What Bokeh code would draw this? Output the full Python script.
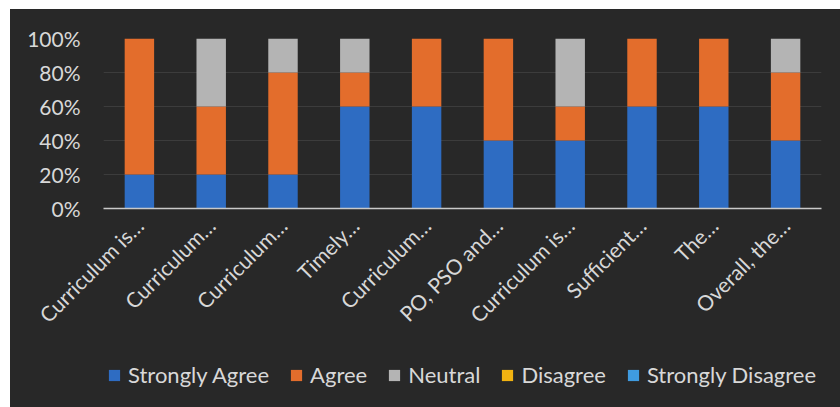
from bokeh.plotting import figure
from bokeh.models import Range1d, FixedTicker, PrintfTickFormatter, Legend, ColumnDataSource
from bokeh.layouts import column
from bokeh.embed import file_html
from bokeh.resources import INLINE
import math

categories = ["Curriculum is\u2026", "Curriculum\u2026", "Curriculum\u2026", "Timely\u2026", "Curriculum\u2026",
              "PO, PSO and\u2026", "Curriculum is\u2026", "Sufficient\u2026", "The\u2026", "Overall, the\u2026"]
positions = [1, 2, 3, 4, 5, 6, 7, 8, 9, 10]
strongly_agree = [20, 20, 20, 60, 60, 40, 40, 60, 60, 40]
agree = [80, 40, 60, 20, 40, 60, 20, 40, 40, 40]
neutral = [0, 40, 20, 20, 0, 0, 40, 0, 0, 20]
disagree = [0, 0, 0, 0, 0, 0, 0, 0, 0, 0]
strongly_disagree = [0, 0, 0, 0, 0, 0, 0, 0, 0, 0]
series = ["Strongly Agree", "Agree", "Neutral", "Disagree", "Strongly Disagree"]
colors = ["#2e6cc2", "#e36d2c", "#b4b4b4", "#f2b311", "#3f9be0"]
y_ticks = [0, 20, 40, 60, 80, 100]

src = ColumnDataSource(dict(x=positions, **{
    "Strongly Agree": strongly_agree, "Agree": agree, "Neutral": neutral,
    "Disagree": disagree, "Strongly Disagree": strongly_disagree}))

BG = "#282828"
TXT = "#d8d8d8"
FONT = "Lato"

# ---- main chart ----
p = figure(width=830, height=340, output_backend="svg", toolbar_location=None,
           x_range=Range1d(0.5, 10.5), y_range=Range1d(0, 100),
           min_border_left=93, min_border_right=19, min_border_top=29, min_border_bottom=141,
           background_fill_color=BG, border_fill_color=BG, outline_line_color=None)

p.vbar_stack(series, x="x", width=0.41, source=src, color=colors, line_color=None)

p.xaxis.ticker = FixedTicker(ticks=positions)
p.xaxis.major_label_overrides = {pos: lab for pos, lab in zip(positions, categories)}
p.xaxis.major_label_orientation = math.pi / 4
p.xaxis.major_label_text_font = FONT
p.xaxis.major_label_text_font_size = "21px"
p.xaxis.major_label_text_color = TXT
p.xaxis.major_label_standoff = 7
p.xaxis.major_tick_line_color = None
p.xaxis.minor_tick_line_color = None
p.xaxis.axis_line_color = "#c9c9c9"
p.xaxis.axis_line_width = 1.5

p.yaxis.ticker = FixedTicker(ticks=y_ticks)
p.yaxis.formatter = PrintfTickFormatter(format="%d%%")
p.yaxis.major_label_text_font = FONT
p.yaxis.major_label_text_font_size = "21px"
p.yaxis.major_label_text_color = TXT
p.yaxis.major_label_standoff = 17
p.yaxis.major_tick_line_color = None
p.yaxis.minor_tick_line_color = None
p.yaxis.axis_line_color = None

p.xgrid.grid_line_color = None
p.ygrid.grid_line_color = "#3c3c3c"
p.ygrid.grid_line_width = 1

# ---- legend strip (same series; its bars fall outside its view) ----
lg = figure(width=830, height=58, output_backend="svg", toolbar_location=None,
            x_range=Range1d(1000, 1001), y_range=Range1d(1000, 1001),
            min_border_top=0, min_border_bottom=0,
            background_fill_color=None, border_fill_color=BG, outline_line_color=None)
lg_renderers = lg.vbar_stack(series, x="x", width=0.41, source=src, color=colors, line_color=None)
lg.axis.visible = False
lg.grid.visible = False

legend = Legend(items=[(s, [r]) for s, r in zip(series, lg_renderers)],
                orientation="horizontal", location=(4, 19),
                background_fill_alpha=0, border_line_color=None,
                label_text_font=FONT, label_text_font_size="22px", label_text_color=TXT,
                glyph_width=14, glyph_height=14, label_standoff=7, spacing=20,
                padding=0, margin=0)
lg.add_layout(legend, "center")

layout = column(p, lg, margin=(9, 0, 0, 10), spacing=0, styles={"background-color": BG})

open("out.html", "w").write(file_html(layout, INLINE))
